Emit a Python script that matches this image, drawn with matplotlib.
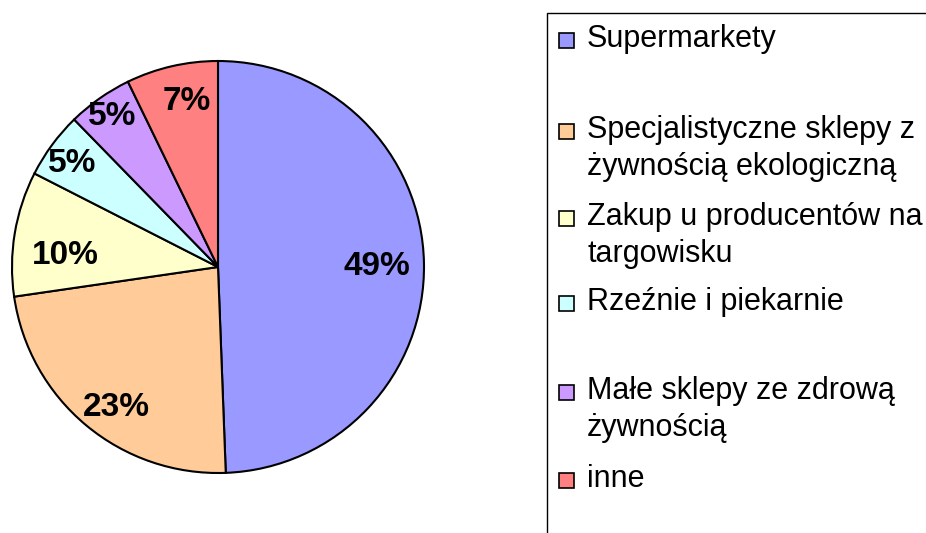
import numpy as np
import matplotlib
matplotlib.use("Agg")
import matplotlib.pyplot as plt
from matplotlib.patches import Rectangle

plt.rcParams['font.family'] = ['Liberation Sans', 'DejaVu Sans']

categories = ['Supermarkety',
              'Specjalistyczne sklepy z\nżywnością ekologiczną',
              'Zakup u producentów na\ntargowisku',
              'Rzeźnie i piekarnie',
              'Małe sklepy ze zdrową\nżywnością',
              'inne']
values = [49.4, 23.3, 9.8, 5.2, 5.1, 7.2]
colors = ['#9999FF', '#FFCC99', '#FFFFCC', '#CCFFFF', '#CC99FF', '#FF8080']

W, H = 926, 533
fig = plt.figure(figsize=(W / 100, H / 100), dpi=100)

cx, cy, r = 218, 267, 206
ax = fig.add_axes([(cx - r) / W, (H - cy - r) / H, 2 * r / W, 2 * r / H])
wedges, _ = ax.pie(values, colors=colors, startangle=90, counterclock=False,
                   radius=1.0, wedgeprops=dict(edgecolor='black', linewidth=1.5))
ax.set_xlim(-1, 1)
ax.set_ylim(-1, 1)
ax.set_aspect('equal')
ax.axis('off')

label_dist = [0.772, 0.831, 0.743, 0.879, 0.906, 0.834]
label_dang = [0.5, 3.2, 3.6, 0.2, -0.5, -2.6]
half_digit = 12.0 / r
total = sum(values)
for w, v, d, da in zip(wedges, values, label_dist, label_dang):
    ang = np.deg2rad((w.theta1 + w.theta2) / 2 + da)
    ax.text(d * np.cos(ang), d * np.sin(ang) - half_digit,
            f"{round(v / total * 100):.0f}%",
            ha='center', va='baseline', fontsize=24, fontweight='bold', color='black')

# legend (drawn manually; box cut off by figure edge as in reference)
lx, ly = 547, 13
fig.patches.append(Rectangle((lx / W, -0.1), 1.2, (H - ly) / H + 0.1,
                             transform=fig.transFigure, facecolor='white',
                             edgecolor='black', linewidth=1.0, zorder=0))
baselines = [47, 138, 225, 310, 399, 487]
line_gap = 37
for lab, col, b in zip(categories, colors, baselines):
    fig.patches.append(Rectangle((559 / W, (H - b - 1) / H), 15 / W, 15 / H,
                                 transform=fig.transFigure, facecolor=col,
                                 edgecolor='black', linewidth=1.2, zorder=2))
    for i, line in enumerate(lab.split('\n')):
        fig.text(587 / W, (H - b - i * line_gap) / H, line, fontsize=22,
                 ha='left', va='baseline', color='black')

fig.savefig('out.png', dpi=100)
